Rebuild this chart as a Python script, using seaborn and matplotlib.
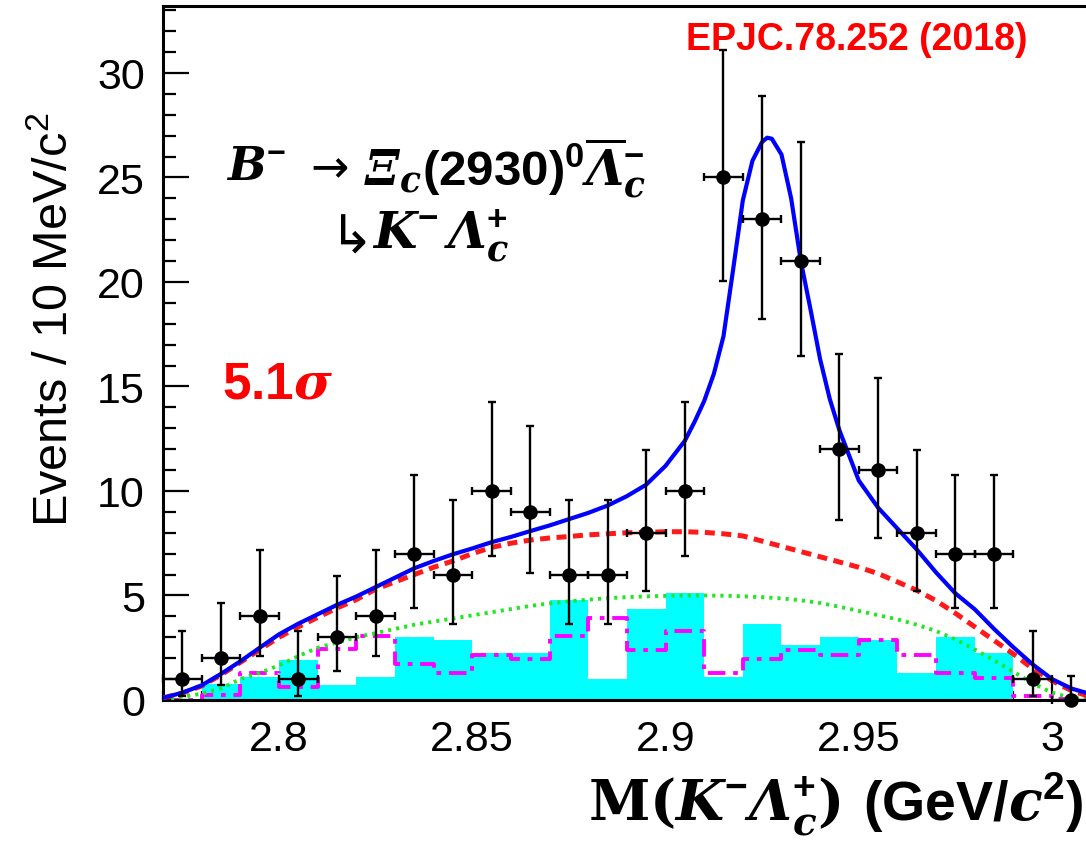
import matplotlib
matplotlib.use("Agg")
import matplotlib.pyplot as plt
import seaborn as sns
from matplotlib.ticker import MultipleLocator

# ---- binned data: K- Lambda_c+ invariant mass, 10 MeV bins ----
mass = [2.775, 2.785, 2.795, 2.805, 2.815, 2.825, 2.835, 2.845, 2.855, 2.865,
        2.875, 2.885, 2.895, 2.905, 2.915, 2.925, 2.935, 2.945, 2.955, 2.965,
        2.975, 2.985, 2.995, 3.005]
counts = [1, 2, 4, 1, 3, 4, 7, 6, 10, 9, 6, 6, 8, 10, 25, 23, 21, 12, 11, 8,
          7, 7, 1, 0]
err_lo = [0.83, 1.29, 1.91, 0.83, 1.63, 1.91, 2.58, 2.38, 3.11, 2.94, 2.38, 2.38,
          2.77, 3.11, 4.97, 4.77, 4.55, 3.41, 3.26, 2.77, 2.58, 2.58, 0.83, 0.0]
err_hi = [2.30, 2.64, 3.16, 2.30, 2.92, 3.16, 3.77, 3.58, 4.27, 4.13, 3.58, 3.58,
          3.96, 4.27, 6.10, 5.89, 5.68, 4.56, 4.42, 3.96, 3.77, 3.77, 2.30, 1.15]
bin_edges = [2.77, 2.78, 2.79, 2.80, 2.81, 2.82, 2.83, 2.84, 2.85, 2.86, 2.87,
             2.88, 2.89, 2.90, 2.91, 2.92, 2.93, 2.94, 2.95, 2.96, 2.97, 2.98,
             2.99, 3.00, 3.01]

# background templates (per bin)
bkg_template_a = [0, 0.75, 1.1, 1.9, 0.72, 1.12, 3.0, 2.86, 2.27, 2.27, 4.77, 0.99,
                  4.37, 5.1, 1.12, 3.62, 2.65, 3.02, 2.86, 1.31, 3.02, 2.27, 0, 0]
bkg_template_b = [0.02, 0.22, 1.3, 0.64, 2.42, 3.06, 1.72, 1.28, 2.14, 1.98, 3.06,
                  3.94, 2.39, 3.3, 1.28, 1.95, 2.4, 2.15, 2.86, 2.17, 1.28, 1.07,
                  0.2, 0.05]

# ---- fit curves ----
curve_m = [2.770, 2.775, 2.780, 2.785, 2.790, 2.795, 2.800, 2.805, 2.810, 2.815,
           2.820, 2.825, 2.830, 2.835, 2.840, 2.845, 2.850, 2.855, 2.860, 2.865,
           2.870, 2.875, 2.880, 2.885, 2.890, 2.895, 2.900, 2.905, 2.910, 2.915,
           2.920, 2.925, 2.930, 2.935, 2.940, 2.945, 2.950, 2.955, 2.960, 2.965,
           2.970, 2.975, 2.980, 2.985, 2.990, 2.995, 3.000, 3.005, 3.010]
bkg_total = [0.10, 0.33, 0.67, 1.20, 1.80, 2.40, 3.00, 3.50, 3.95, 4.40,
             4.80, 5.30, 5.65, 6.00, 6.35, 6.65, 7.00, 7.30, 7.50, 7.65,
             7.75, 7.82, 7.90, 7.95, 8.00, 8.02, 8.05, 8.05, 8.02, 7.95,
             7.85, 7.60, 7.35, 7.10, 6.85, 6.60, 6.35, 6.05, 5.65, 5.25,
             4.75, 4.15, 3.50, 2.85, 2.20, 1.50, 0.92, 0.45, 0.15]
bkg_smooth = [0.00, 0.15, 0.30, 0.55, 1.00, 1.30, 1.65, 2.10, 2.50, 2.75,
              3.00, 3.20, 3.40, 3.60, 3.75, 3.90, 4.05, 4.20, 4.35, 4.50,
              4.62, 4.72, 4.80, 4.87, 4.92, 4.96, 4.98, 5.00, 5.00, 4.99,
              4.96, 4.92, 4.86, 4.77, 4.64, 4.46, 4.26, 4.06, 3.86, 3.60,
              3.30, 2.90, 2.42, 1.90, 1.35, 0.80, 0.35, 0.10, 0.02]

total_m = [2.770, 2.775, 2.780, 2.785, 2.790, 2.795, 2.800, 2.805, 2.810, 2.815,
           2.820, 2.825, 2.830, 2.835, 2.840, 2.845, 2.850, 2.855, 2.860, 2.865,
           2.870, 2.875, 2.880, 2.885, 2.890, 2.895, 2.900, 2.905, 2.9075, 2.910,
           2.9125, 2.915, 2.9175, 2.920, 2.9225, 2.925, 2.9263, 2.9275, 2.930,
           2.9325, 2.935, 2.9375, 2.940, 2.9425, 2.945, 2.9475, 2.950, 2.955,
           2.960, 2.965, 2.970, 2.975, 2.980, 2.985, 2.990, 2.995, 3.000, 3.005,
           3.010]
total_fit = [0.10, 0.35, 0.70, 1.25, 1.85, 2.50, 3.14, 3.65, 4.10, 4.55,
             4.95, 5.40, 5.85, 6.30, 6.65, 6.97, 7.25, 7.55, 7.80, 8.08,
             8.35, 8.65, 8.95, 9.30, 9.75, 10.30, 11.20, 12.40, 13.30, 14.30,
             15.60, 17.40, 20.60, 23.90, 25.80, 26.70, 26.90, 26.85, 26.10,
             24.00, 21.00, 18.70, 16.30, 14.40, 12.90, 11.70, 10.50, 9.20,
             8.20, 7.20, 6.10, 5.10, 4.34, 3.40, 2.52, 1.70, 1.00, 0.55,
             0.28]

sns.set_style("ticks")
plt.rcParams["font.family"] = ["Liberation Sans", "DejaVu Sans"]
plt.rcParams["text.color"] = "black"
plt.rcParams["mathtext.fontset"] = "custom"
plt.rcParams["mathtext.rm"] = "Liberation Sans:bold"
plt.rcParams["mathtext.sf"] = "Liberation Sans:bold"
plt.rcParams["mathtext.bf"] = "DejaVu Serif:bold"
plt.rcParams["mathtext.it"] = "DejaVu Serif:italic:bold"
plt.rcParams["mathtext.bfit"] = "DejaVu Serif:italic:bold"

W, H = 1086, 845
fig = plt.figure(figsize=(W / 100, H / 100), dpi=100)
ax = fig.add_axes([163 / W, 1 - 701 / H, (1090.7 - 163) / W, (701 - 7) / H])

# background histograms
sns.histplot(x=mass, weights=bkg_template_a, bins=bin_edges, element="step",
             fill=True, color="#00ffff", alpha=1.0, linewidth=0, ax=ax, zorder=1)
sns.histplot(x=mass, weights=bkg_template_b, bins=bin_edges, element="step",
             fill=False, color="#ff00ff", linewidth=2.8,
             dashes=(4.5, 2.0, 1.2, 2.0), ax=ax, zorder=2)

# fit components
sns.lineplot(x=curve_m, y=bkg_smooth, color="#22e622", linewidth=2.8,
             linestyle=(0, (0.8, 1.3)), ax=ax, zorder=3)
sns.lineplot(x=curve_m, y=bkg_total, color="#ff1a1a", linewidth=3.6,
             linestyle=(0, (2.0, 1.3)), ax=ax, zorder=4)
sns.lineplot(x=total_m, y=total_fit, color="#0000ff", linewidth=3.0, ax=ax,
             zorder=5)

# data with asymmetric Poisson errors
ax.errorbar(mass, counts, yerr=[err_lo, err_hi], xerr=0.005, fmt="none",
            ecolor="black", elinewidth=1.7, capsize=3, capthick=1.7,
            zorder=6, clip_on=False)
sns.scatterplot(x=mass, y=counts, color="black", s=110, edgecolor="black",
                linewidth=0, ax=ax, zorder=7, clip_on=False)

ax.set_xlim(2.77, 3.01)
ax.set_ylim(0, 33.2)
ax.set_xlabel("")
ax.set_ylabel("")
ax.set_xticks([2.80, 2.85, 2.90, 2.95, 3.00])
ax.set_xticklabels(["2.8", "2.85", "2.9", "2.95", "3"])
ax.set_yticks([0, 5, 10, 15, 20, 25, 30])
ax.xaxis.set_minor_locator(MultipleLocator(0.01))
ax.yaxis.set_minor_locator(MultipleLocator(1))
ax.tick_params(axis="both", which="both", direction="in", width=1.6,
               top=False, right=False, labelsize=31, colors="black")
ax.tick_params(axis="y", which="major", length=19, pad=13)
ax.tick_params(axis="y", which="minor", length=9.5)
ax.tick_params(axis="x", which="major", length=13.5, pad=14)
ax.tick_params(axis="x", which="minor", length=6.5)
for side in ("left", "bottom", "top"):
    ax.spines[side].set_linewidth(2.2)
    ax.spines[side].set_color("black")
ax.spines["right"].set_visible(False)

# axis titles
fig.text(55 / W, 1 - 320 / H, r"Events / 10 MeV/c$^{\mathregular{2}}$",
         rotation=90, ha="center", va="center", fontsize=35)
fig.text(1083 / W, 1 - 804 / H,
         r"$\mathbf{M}\mathbf{(}\mathbfit{K}^{-}\mathbfit{\Lambda}_{\mathbfit{c}}^{+}\mathbf{)}"
         r"\ \mathsf{(GeV/}\mathbfit{c}^{\mathsf{2}}\mathsf{)}$",
         ha="right", va="center", fontsize=40)

# annotations
fig.text(857 / W, 1 - 40 / H, "EPJC.78.252 (2018)", color="#ff0000",
         fontweight="bold", fontsize=27, ha="center", va="center")
fig.text(222 / W, 1 - 385 / H, r"$\mathsf{5.1}\mathbfit{\sigma}$",
         color="#ff0000", fontsize=37, ha="left", va="center")

# decay chain
fig.text(226 / W, 1 - 168 / H, r"$\mathbfit{B}^{-}$",
         fontsize=33, ha="left", va="center")
fig.text(330 / W, 1 - 170 / H, "→", family=["DejaVu Sans"], fontsize=33,
         ha="center", va="center")
fig.text(364 / W, 1 - 168 / H,
         r"$\mathbfit{\Xi}_{\mathbfit{c}}(2930)^{0}"
         r"\overline{\mathbfit{\Lambda}}_{\mathbfit{c}}^{-}$",
         fontsize=35.5, ha="left", va="center")
fig.text(352 / W, 1 - 238 / H, "↳", family=["DejaVu Sans"], fontsize=38,
         ha="center", va="center")
fig.text(372 / W, 1 - 236 / H,
         r"$\mathbfit{K}^{-}\,\mathbfit{\Lambda}_{\mathbfit{c}}^{+}$",
         fontsize=36, ha="left", va="center")

fig.savefig("out.png", dpi=100)
